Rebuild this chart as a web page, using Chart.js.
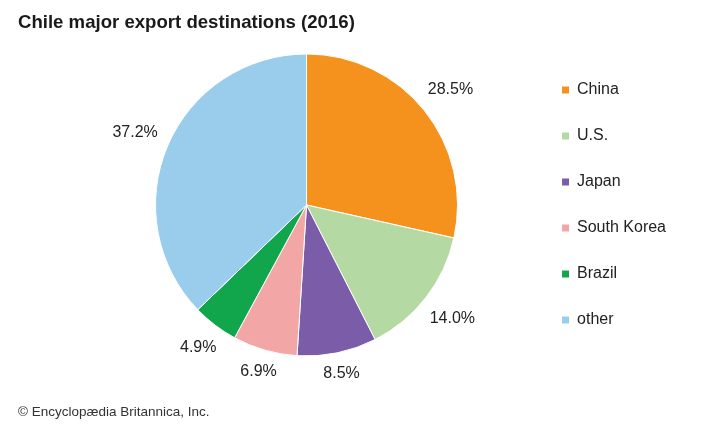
<!DOCTYPE html>
<html>
<head>
<meta charset="utf-8">
<script src="https://cdn.jsdelivr.net/npm/chart.js@4.4.1/dist/chart.umd.min.js"></script>
<style>
  body { margin: 0; background: #fff; }
  #wrap { position: relative; width: 720px; height: 431px; font-family: "Liberation Sans", Arial, sans-serif; }
  #title { position: absolute; left: 18px; top: 11px; font-size: 18.6px; font-weight: bold; color: #1a1a1a; }
  #credit { position: absolute; left: 18px; top: 404px; font-size: 13.5px; color: #333; }
</style>
</head>
<body>
<div id="wrap">
  <canvas id="myChart" width="720" height="431"></canvas>
  <div id="title">Chile major export destinations (2016)</div>
  <div id="credit">© Encyclopædia Britannica, Inc.</div>
</div>
<script>
let labels = ['China', 'U.S.', 'Japan', 'South Korea', 'Brazil', 'other'];
let shares = [28.5, 14.0, 8.5, 6.9, 4.9, 37.2];
let colors = ['#F5921E', '#B5D9A2', '#7A5CA8', '#F2A7A6', '#12A64C', '#9ACDEC'];

// percentage labels just outside each slice, pushed out by the text box size
let outsideLabels = {
    id: 'outsideLabels',
    afterDatasetsDraw(chart) {
        let ctx = chart.ctx;
        let meta = chart.getDatasetMeta(0);
        ctx.save();
        ctx.font = '16px "Liberation Sans", Arial, sans-serif';
        ctx.fillStyle = '#222';
        ctx.textAlign = 'center';
        ctx.textBaseline = 'middle';
        meta.data.forEach((arc, i) => {
            let txt = shares[i].toFixed(1) + '%';
            let mid = (arc.startAngle + arc.endAngle) / 2;
            let cos = Math.cos(mid), sin = Math.sin(mid);
            let hw = ctx.measureText(txt).width / 2;
            let r = arc.outerRadius + 12 + Math.abs(cos) * hw + Math.abs(sin) * 6;
            ctx.fillText(txt, arc.x + cos * r, arc.y + sin * r);
        });
        ctx.restore();
    }
};

let chart = new Chart(document.getElementById('myChart').getContext('2d'), {
    type: 'pie',
    data: {
        labels: labels,
        datasets: [{
            data: shares,
            backgroundColor: colors,
            borderColor: '#fff',
            borderWidth: 1,
            radius: 151
        }]
    },
    options: {
        responsive: false,
        animation: false,
        layout: {
            padding: { top: 20, bottom: 41, left: 81, right: 44 }
        },
        plugins: {
            legend: {
                position: 'right',
                fullSize: false,
                labels: {
                    boxWidth: 7,
                    boxHeight: 7,
                    padding: 30,
                    color: '#222',
                    font: { size: 16, family: '"Liberation Sans", Arial, sans-serif' },
                    // plain squares, no white outline
                    generateLabels: (c) => Chart.overrides.pie.plugins.legend.labels.generateLabels(c)
                        .map(item => ({ ...item, lineWidth: 0 }))
                }
            },
            tooltip: { enabled: false }
        }
    },
    plugins: [outsideLabels]
});
</script>
</body>
</html>
